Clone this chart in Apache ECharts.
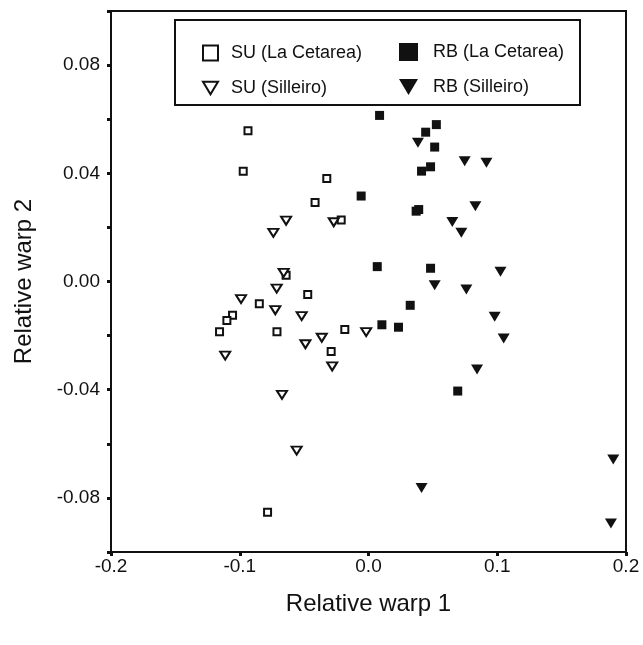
<!DOCTYPE html>
<html>
<head>
<meta charset="utf-8">
<script src="https://cdn.jsdelivr.net/npm/echarts@6/dist/echarts.min.js"></script>
<style>
html, body { margin: 0; padding: 0; background: #fff; }
#chart { width: 643px; height: 645px; }
</style>
</head>
<body>
<div id="chart"></div>
<script>
// relative warp scores [RW1, RW2]
var suCetarea = [
    [-0.0936, 0.0557], [-0.0973, 0.0408], [-0.0324, 0.0381], [-0.0415, 0.0292],
    [-0.0212, 0.0227], [-0.0640, 0.0023], [-0.0472, -0.0048], [-0.0848, -0.0082],
    [-0.1056, -0.0125], [-0.1100, -0.0144], [-0.1157, -0.0186], [-0.0711, -0.0186],
    [-0.0184, -0.0177], [-0.0290, -0.0259], [-0.0784, -0.0853]
];
var suSilleiro = [
    [-0.0640, 0.0225], [-0.0739, 0.0180], [-0.0270, 0.0219], [-0.0659, 0.0032],
    [-0.0713, -0.0026], [-0.0990, -0.0065], [-0.0724, -0.0106], [-0.0519, -0.0128],
    [-0.0018, -0.0187], [-0.0363, -0.0208], [-0.0490, -0.0232], [-0.1113, -0.0274],
    [-0.0282, -0.0314], [-0.0672, -0.0419], [-0.0558, -0.0625]
];
var rbCetarea = [
    [0.0086, 0.0614], [0.0527, 0.0580], [0.0444, 0.0552], [0.0514, 0.0497],
    [0.0482, 0.0424], [0.0412, 0.0408], [-0.0057, 0.0316], [0.0390, 0.0266],
    [0.0370, 0.0260], [0.0068, 0.0055], [0.0482, 0.0049], [0.0324, -0.0088],
    [0.0104, -0.0160], [0.0233, -0.0169], [0.0693, -0.0405]
];
var rbSilleiro = [
    [0.0384, 0.0513], [0.0747, 0.0445], [0.0916, 0.0439], [0.0830, 0.0278],
    [0.0651, 0.0220], [0.0721, 0.0180], [0.1025, 0.0036], [0.0514, -0.0014],
    [0.0760, -0.0030], [0.0980, -0.0130], [0.1050, -0.0211], [0.0843, -0.0325],
    [0.0412, -0.0763], [0.1901, -0.0658], [0.1883, -0.0895]
];
var seriesNames = ['SU (La Cetarea)', 'SU (Silleiro)', 'RB (La Cetarea)', 'RB (Silleiro)'];

var ink = '#111';
var font = 'Liberation Sans, Arial, Helvetica, sans-serif';
var downTriangle = 'path://M0,0L12,0L6,10Z';

var myChart = echarts.init(document.getElementById('chart'));

var openStyle = {color: '#fff', borderColor: ink, borderWidth: 2, opacity: 1};
var solidStyle = {color: ink, borderWidth: 0, opacity: 1};

var option = {
    animation: false,
    backgroundColor: '#fff',
    textStyle: {fontFamily: font, color: ink},
    grid: {
        left: 111, right: 17, top: 11, bottom: 93,
        show: true, borderColor: ink, borderWidth: 2, backgroundColor: 'transparent'
    },
    graphic: [{
        type: 'rect',
        z: 3,
        shape: {x: 175, y: 20, width: 405, height: 85},
        style: {fill: '#fff', stroke: ink, lineWidth: 2}
    }],
    legend: [{
        data: [seriesNames[0], seriesNames[1]],
        orient: 'vertical',
        left: 197, top: 39,
        itemWidth: 15, itemHeight: 15,
        itemGap: 17,
        textStyle: {fontSize: 18, color: ink, fontFamily: font, lineHeight: 18, padding: [0, 0, 0, 8]}
    }, {
        data: [seriesNames[2], seriesNames[3]],
        orient: 'vertical',
        left: 394, top: 38,
        itemWidth: 19, itemHeight: 18,
        itemGap: 17,
        textStyle: {fontSize: 18, color: ink, fontFamily: font, lineHeight: 18, padding: [0, 0, 0, 10]}
    }],
    xAxis: {
        type: 'value',
        min: -0.2, max: 0.2, interval: 0.1,
        name: 'Relative warp 1',
        nameLocation: 'middle',
        nameGap: 40,
        nameTextStyle: {fontSize: 24, color: ink, fontFamily: font},
        axisLine: {show: true, onZero: false, lineStyle: {color: ink, width: 2}},
        axisTick: {show: true, length: 4, lineStyle: {color: ink, width: 3}},
        axisLabel: {
            fontSize: 19, color: ink, margin: 5,
            formatter: function (v) { return v.toFixed(1); }
        },
        splitLine: {show: false}
    },
    yAxis: {
        type: 'value',
        min: -0.1, max: 0.1, interval: 0.02,
        name: 'Relative warp 2',
        nameLocation: 'middle',
        nameGap: 75,
        nameTextStyle: {fontSize: 24, color: ink, fontFamily: font},
        axisLine: {show: true, onZero: false, lineStyle: {color: ink, width: 2}},
        axisTick: {show: true, length: 4, lineStyle: {color: ink, width: 3}},
        axisLabel: {
            fontSize: 19, color: ink, margin: 11,
            formatter: function (v) {
                var k = Math.round(v * 100);
                if (Math.abs(k) === 10 || k % 4 !== 0) {
                    return '';
                }
                return (k / 100).toFixed(2);
            }
        },
        splitLine: {show: false}
    },
    series: [{
        name: seriesNames[0],
        type: 'scatter',
        symbol: 'rect',
        symbolSize: 7,
        itemStyle: openStyle,
        data: suCetarea
    }, {
        name: seriesNames[1],
        type: 'scatter',
        symbol: downTriangle,
        symbolSize: [10, 8],
        itemStyle: openStyle,
        data: suSilleiro
    }, {
        name: seriesNames[2],
        type: 'scatter',
        symbol: 'rect',
        symbolSize: 9,
        itemStyle: solidStyle,
        data: rbCetarea
    }, {
        name: seriesNames[3],
        type: 'scatter',
        symbol: downTriangle,
        symbolSize: [12, 10],
        itemStyle: solidStyle,
        data: rbSilleiro
    }]
};

myChart.setOption(option);
</script>
</body>
</html>
